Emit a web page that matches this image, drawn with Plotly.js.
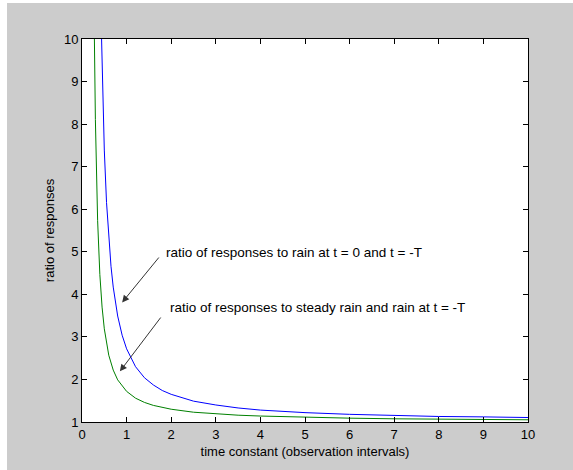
<!DOCTYPE html>
<html>
<head>
<meta charset="utf-8">
<script src="https://cdn.plot.ly/plotly-3.0.1.min.js"></script>
<style>
html,body{margin:0;padding:0;background:#ffffff;}
#chart{position:absolute;left:7px;top:3px;width:566px;height:467px;}
</style>
</head>
<body>
<div id="chart"></div>
<script>
// time constant (observation intervals)
const xBlue = [0.42, 0.45, 0.5, 0.55, 0.6, 0.65, 0.7, 0.8, 0.9, 1.0, 1.2, 1.4, 1.6, 1.8, 2.0, 2.5, 3.0, 3.5, 4, 5, 6, 7, 8, 9, 10];
// ratio of responses to rain at t = 0 and t = -T
const yBlue = [10.81, 9.23, 7.39, 6.16, 5.29, 4.66, 4.17, 3.49, 3.04, 2.72, 2.30, 2.04, 1.87, 1.74, 1.65, 1.49, 1.40, 1.33, 1.28, 1.22, 1.18, 1.15, 1.13, 1.12, 1.105];

const xGreen = [0.27, 0.3, 0.35, 0.4, 0.45, 0.5, 0.6, 0.7, 0.8, 0.9, 1.0, 1.2, 1.4, 1.6, 1.8, 2.0, 2.5, 3.0, 3.5, 4, 5, 6, 7, 8, 9, 10];
// ratio of responses to steady rain and rain at t = -T
const yGreen = [10.69, 8.11, 5.74, 4.47, 3.70, 3.19, 2.57, 2.22, 1.99, 1.84, 1.72, 1.56, 1.46, 1.39, 1.34, 1.30, 1.23, 1.19, 1.16, 1.14, 1.11, 1.09, 1.075, 1.065, 1.057, 1.052];

const xTicks = [0, 1, 2, 3, 4, 5, 6, 7, 8, 9, 10];
const yTicks = [1, 2, 3, 4, 5, 6, 7, 8, 9, 10];

const label1 = "ratio of responses to rain at t = 0 and t = -T";
const label2 = "ratio of responses to steady rain and rain at t = -T";

const fontFam = "Liberation Sans, Arial, sans-serif";

const traces = [
  {x: xBlue, y: yBlue, type: 'scatter', mode: 'lines', line: {color: '#0000ff', width: 1}, hoverinfo: 'skip'},
  {x: xGreen, y: yGreen, type: 'scatter', mode: 'lines', line: {color: '#008000', width: 1}, hoverinfo: 'skip'}
];

const axisCommon = {
  showline: true, linecolor: '#000000', linewidth: 1, mirror: 'ticks',
  ticks: 'inside', ticklen: 5, tickcolor: '#000000', tickwidth: 1,
  showgrid: false, zeroline: false,
  tickfont: {family: fontFam, size: 13, color: '#000000'}
};

const layout = {
  width: 566, height: 467,
  margin: {l: 75, r: 45, t: 36, b: 48},
  paper_bgcolor: '#cccccc',
  plot_bgcolor: '#ffffff',
  showlegend: false,
  xaxis: Object.assign({}, axisCommon, {
    range: [0, 10], tickmode: 'array', tickvals: xTicks, ticktext: xTicks.map(String),
    title: {text: 'time constant (observation intervals)', font: {family: fontFam, size: 13, color: '#000000'}, standoff: 6}
  }),
  yaxis: Object.assign({}, axisCommon, {
    range: [1, 10], tickmode: 'array', tickvals: yTicks, ticktext: yTicks.map(String),
    title: {text: 'ratio of responses', font: {family: fontFam, size: 13, color: '#000000'}, standoff: 6}
  }),
  annotations: [
    {x: 1.83, y: 4.99, xref: 'x', yref: 'y', text: label1, showarrow: false, xanchor: 'left', yanchor: 'middle',
     font: {family: fontFam, size: 13.5, color: '#000000'}},
    {x: 1.93, y: 3.70, xref: 'x', yref: 'y', text: label2, showarrow: false, xanchor: 'left', yanchor: 'middle',
     font: {family: fontFam, size: 13.5, color: '#000000'}},
    {x: 0.90, y: 3.81, ax: 1.75, ay: 4.90, xref: 'x', yref: 'y', axref: 'x', ayref: 'y', text: '',
     showarrow: true, arrowhead: 2, arrowsize: 1.4, arrowwidth: 1, arrowcolor: '#333333', standoff: 0},
    {x: 0.85, y: 2.19, ax: 1.79, ay: 3.49, xref: 'x', yref: 'y', axref: 'x', ayref: 'y', text: '',
     showarrow: true, arrowhead: 2, arrowsize: 1.4, arrowwidth: 1, arrowcolor: '#333333', standoff: 0}
  ]
};

Plotly.newPlot('chart', traces, layout, {displayModeBar: false, staticPlot: true});
</script>
</body>
</html>
